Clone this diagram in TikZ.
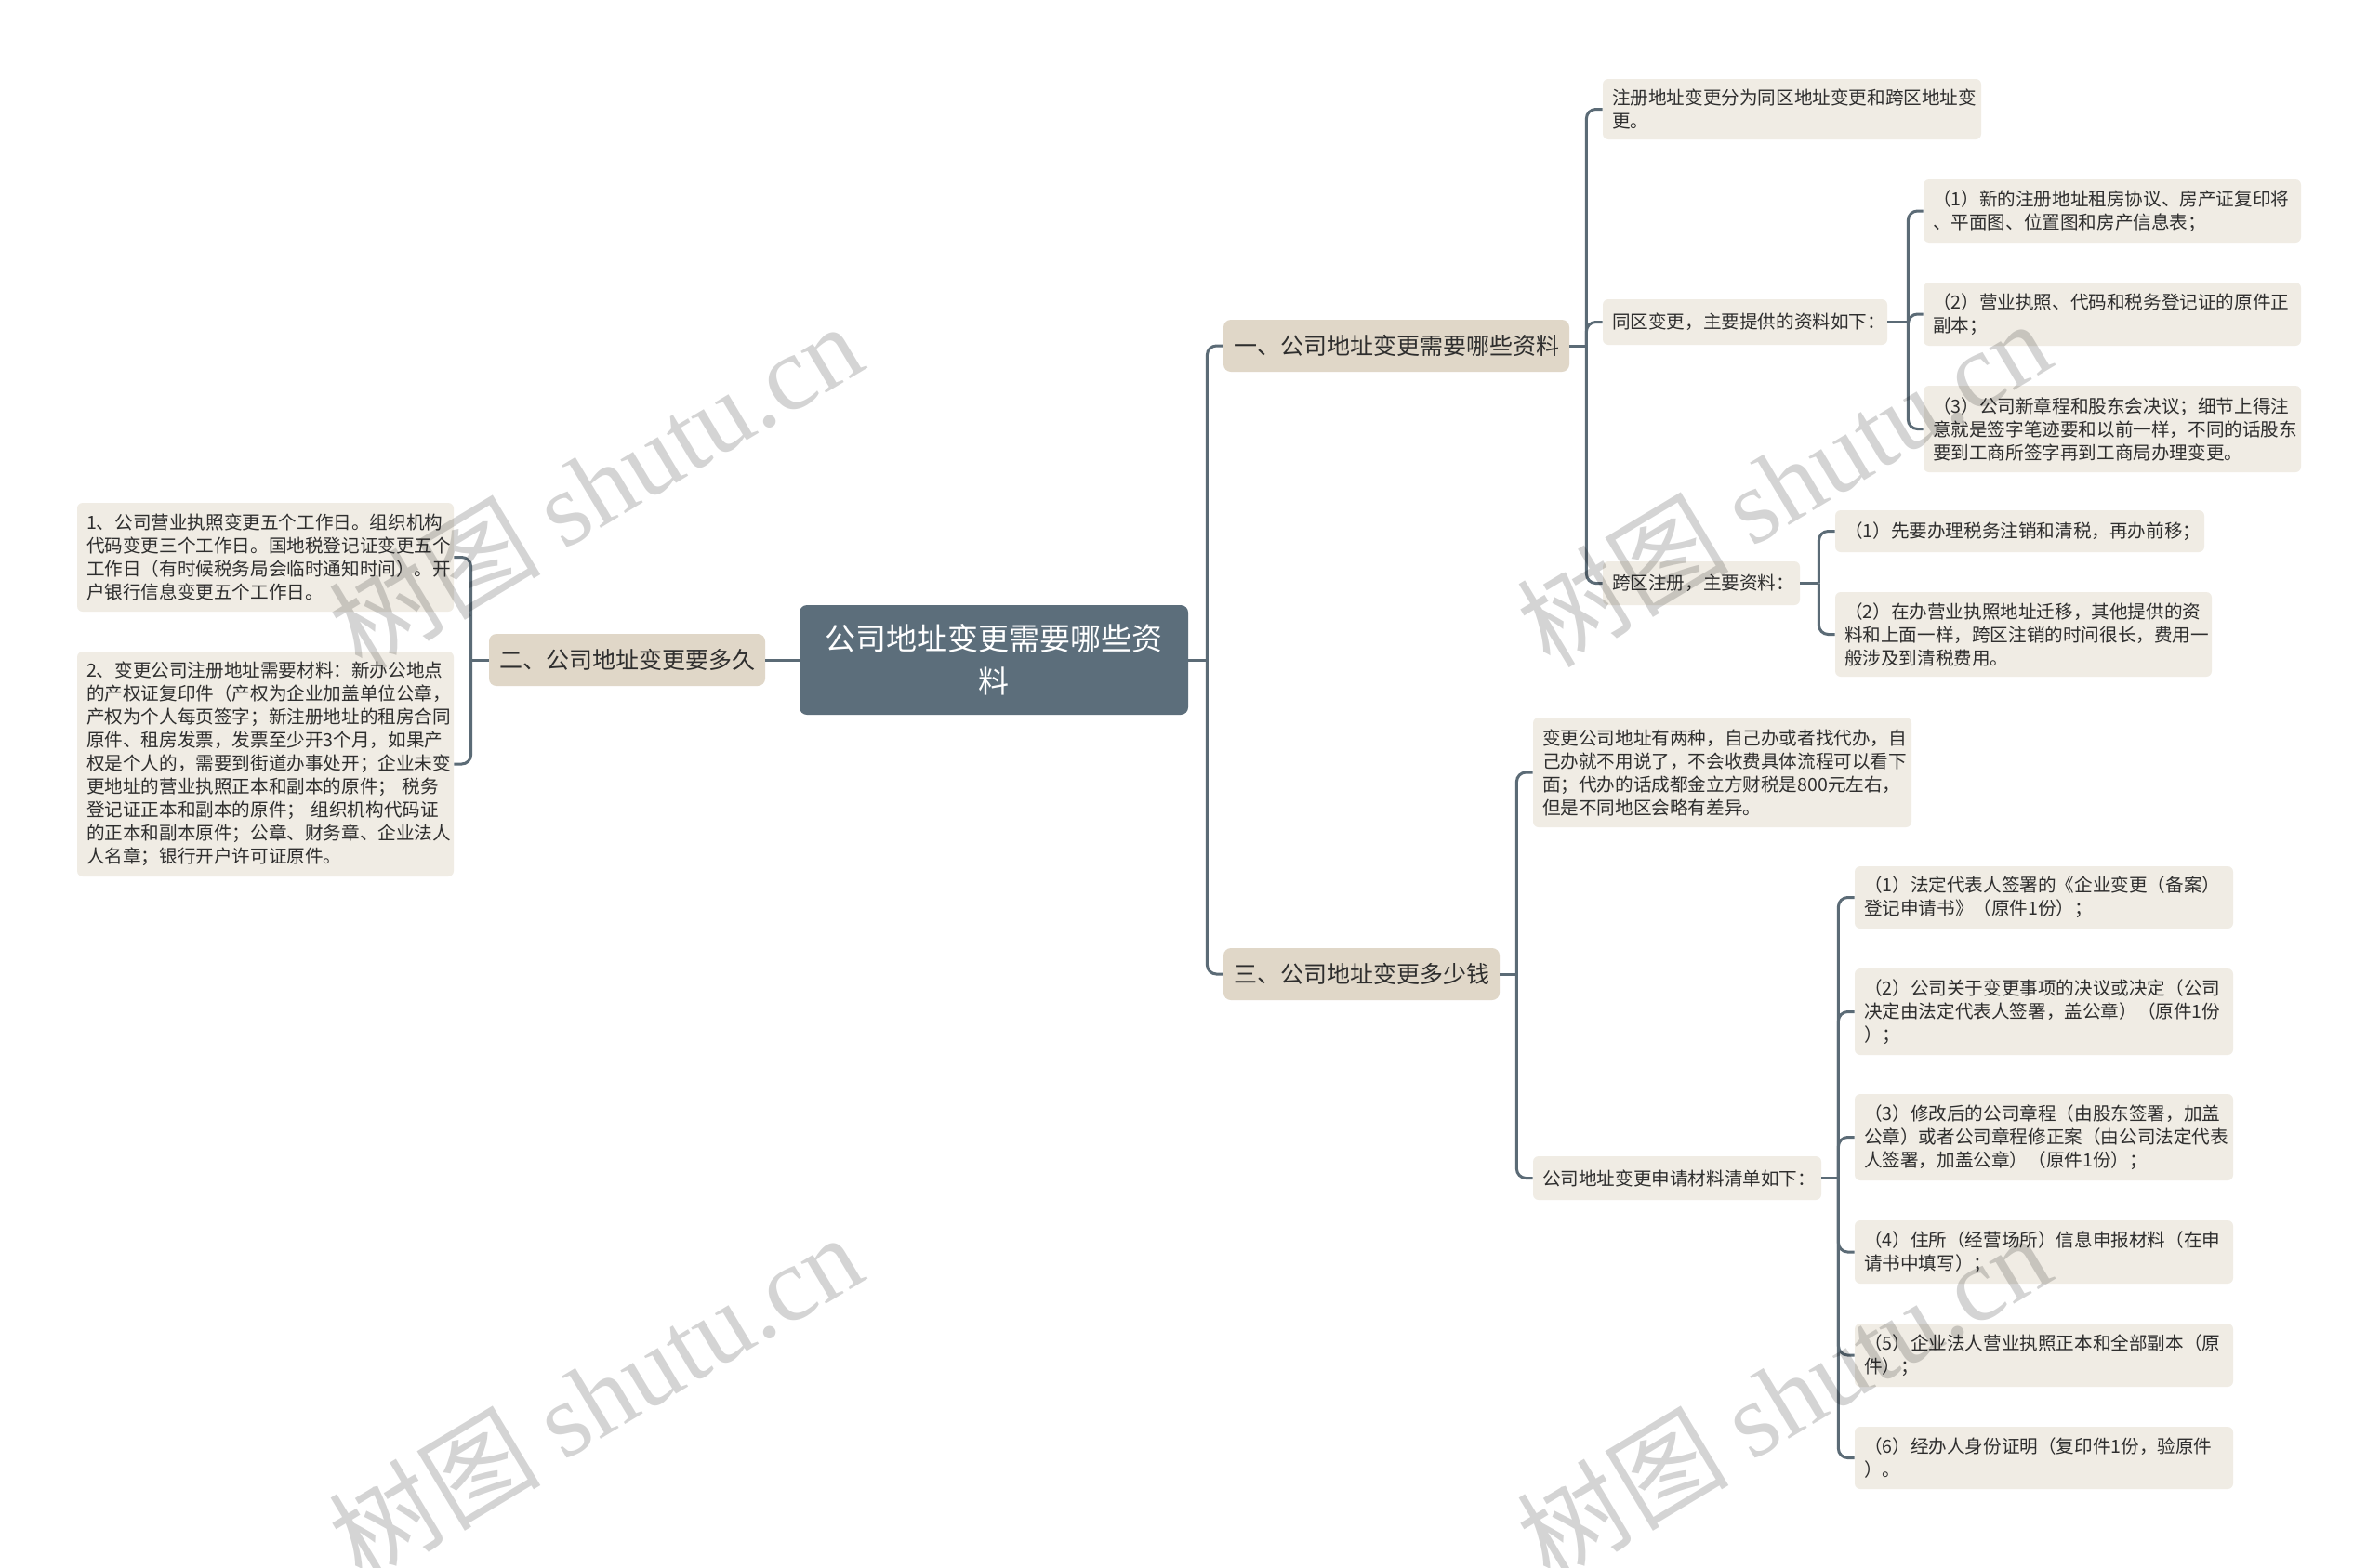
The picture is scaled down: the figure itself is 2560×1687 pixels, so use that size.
\documentclass[tikz,border=0pt]{standalone}
\usepackage{fontspec}
\setmainfont{Noto Sans CJK SC}
\newfontfamily\wmlatin{Liberation Serif}
\definecolor{linec}{HTML}{5B6B76}
\definecolor{rootc}{HTML}{5C6E7B}
\definecolor{lvlc}{HTML}{E0D7C8}
\definecolor{leafc}{HTML}{F0ECE4}
\definecolor{txtc}{HTML}{2E2E2E}
\tikzset{
  box/.style={rounded corners=3pt, inner xsep=5pt, inner ysep=0pt, align=left,
    font=\fontsize{9.8}{12.5}\selectfont, text=txtc, fill=leafc},
  rootbox/.style={rounded corners=4pt, fill=rootc, text=white, align=center,
    inner sep=0pt, font=\fontsize{16.5}{23}\selectfont},
  lvlbox/.style={rounded corners=4pt, fill=lvlc, text=txtc, inner sep=0pt,
    font=\fontsize{12.5}{15}\selectfont},
  conn/.style={draw=linec, line width=1.5pt, rounded corners=5pt},
  wm/.style={rotate=31, text=black, text opacity=0.17, inner sep=0pt,
    font=\fontsize{57}{60}\selectfont}
}
\begin{document}
\begin{tikzpicture}[x=0.5pt,y=-0.5pt]
\useasboundingbox[fill=white] (0,0) rectangle (2560,1687);

% root and level 1
\node[rootbox, minimum width=209pt, minimum height=59pt] (root) at (1069,710)
  {公司地址变更需要哪些资\\料};
\node[lvlbox, minimum width=148.5pt, minimum height=28pt] (n2) at (674.5,710)
  {二、公司地址变更要多久};
\node[lvlbox, minimum width=186pt, minimum height=28pt] (n1) at (1502,372)
  {一、公司地址变更需要哪些资料};
\node[lvlbox, minimum width=148.5pt, minimum height=28pt] (n3) at (1464.5,1048)
  {三、公司地址变更多少钱};

% left leaves
\node[box, text width=192.5pt, minimum height=58.5pt] (L1) at (285.5,599.5)
  {1、公司营业执照变更五个工作日。组织机构\\代码变更三个工作日。国地税登记证变更五个\\工作日（有时候税务局会临时通知时间）。开\\户银行信息变更五个工作日。};
\node[box, text width=192.5pt, minimum height=121pt] (L2) at (285.5,822)
  {2、变更公司注册地址需要材料：新办公地点\\的产权证复印件（产权为企业加盖单位公章，\\产权为个人每页签字；新注册地址的租房合同\\原件、租房发票，发票至少开3个月，如果产\\权是个人的，需要到街道办事处开；企业未变\\更地址的营业执照正本和副本的原件； 税务\\登记证正本和副本的原件； 组织机构代码证\\的正本和副本原件；公章、财务章、企业法人\\人名章；银行开户许可证原件。};

% branch one children
\node[box, text width=193.5pt, minimum height=32.5pt] (a1) at (1927.5,117.5)
  {注册地址变更分为同区地址变更和跨区地址变\\更。};
\node[box, text width=143pt, minimum height=24.5pt] (a2) at (1877,346.5)
  {同区变更，主要提供的资料如下：};
\node[box, text width=96pt, minimum height=23.5pt] (a3) at (1830,627.5)
  {跨区注册，主要资料：};

\node[box, text width=193pt, minimum height=34pt] (b1) at (2272,227)
  {（1）新的注册地址租房协议、房产证复印将\\、平面图、位置图和房产信息表；};
\node[box, text width=193pt, minimum height=34pt] (b2) at (2272,338)
  {（2）营业执照、代码和税务登记证的原件正\\副本；};
\node[box, text width=193pt, minimum height=46.5pt] (b3) at (2272,461.5)
  {（3）公司新章程和股东会决议；细节上得注\\意就是签字笔迹要和以前一样，不同的话股东\\要到工商所签字再到工商局办理变更。};

\node[box, text width=188.5pt, minimum height=22.5pt] (c1) at (2172.5,571.5)
  {（1）先要办理税务注销和清税，再办前移；};
\node[box, text width=192.5pt, minimum height=45.5pt] (c2) at (2176.5,682.5)
  {（2）在办营业执照地址迁移，其他提供的资\\料和上面一样，跨区注销的时间很长，费用一\\般涉及到清税费用。};

% branch three children
\node[box, text width=193.5pt, minimum height=59pt] (d1) at (1852.5,831)
  {变更公司地址有两种，自己办或者找代办，自\\己办就不用说了，不会收费具体流程可以看下\\面；代办的话成都金立方财税是800元左右，\\但是不同地区会略有差异。};
\node[box, text width=145pt, minimum height=23.5pt] (d2) at (1804,1267.5)
  {公司地址变更申请材料清单如下：};

\node[box, text width=193.5pt, minimum height=33.5pt] (e1) at (2198.5,965.5)
  {（1）法定代表人签署的《企业变更（备案）\\登记申请书》（原件1份）；};
\node[box, text width=193.5pt, minimum height=46.5pt] (e2) at (2198.5,1088.5)
  {（2）公司关于变更事项的决议或决定（公司\\决定由法定代表人签署，盖公章）（原件1份\\）；};
\node[box, text width=193.5pt, minimum height=46.5pt] (e3) at (2198.5,1223.5)
  {（3）修改后的公司章程（由股东签署，加盖\\公章）或者公司章程修正案（由公司法定代表\\人签署，加盖公章）（原件1份）；};
\node[box, text width=193.5pt, minimum height=34pt] (e4) at (2198.5,1347)
  {（4）住所（经营场所）信息申报材料（在申\\请书中填写）；};
\node[box, text width=193.5pt, minimum height=34pt] (e5) at (2198.5,1458)
  {（5）企业法人营业执照正本和全部副本（原\\件）；};
\node[box, text width=193.5pt, minimum height=33.5pt] (e6) at (2198.5,1568.5)
  {（6）经办人身份证明（复印件1份，验原件\\）。};

% connectors
\coordinate (tR) at ([xshift=10pt]root.east);
\draw[conn] (root.east) -- (tR);
\draw[conn] (tR) |- (n1.west);
\draw[conn] (tR) |- (n3.west);

\coordinate (tL) at ([xshift=-9.5pt]n2.west);
\draw[conn] (root.west) -- (n2.east);
\draw[conn] (n2.west) -- (tL);
\draw[conn] (tL) |- (L1.east);
\draw[conn] (tL) |- (L2.east);

\coordinate (t1) at ([xshift=9pt]n1.east);
\draw[conn] (n1.east) -- (t1);
\draw[conn] (t1) |- (a1.west);
\draw[conn] (t1) |- (a2.west);
\draw[conn] (t1) |- (a3.west);

\coordinate (t2) at ([xshift=11pt]a2.east);
\draw[conn] (a2.east) -- (t2);
\draw[conn] (t2) |- (b1.west);
\draw[conn] (t2) |- (b2.west);
\draw[conn] (t2) |- (b3.west);

\coordinate (t3) at ([xshift=10pt]a3.east);
\draw[conn] (a3.east) -- (t3);
\draw[conn] (t3) |- (c1.west);
\draw[conn] (t3) |- (c2.west);

\coordinate (t4) at ([xshift=9pt]n3.east);
\draw[conn] (n3.east) -- (t4);
\draw[conn] (t4) |- (d1.west);
\draw[conn] (t4) |- (d2.west);

\coordinate (t5) at ([xshift=9pt]d2.east);
\draw[conn] (d2.east) -- (t5);
\foreach \e in {e1,e2,e3,e4,e5,e6} {\draw[conn] (t5) |- (\e.west);}

% watermarks
\node[wm] (wm1) at (640,522) {树图 {\wmlatin shutu.cn}};
\node[wm] (wm2) at (640,1502) {树图 {\wmlatin shutu.cn}};
\node[wm] (wm3) at (1918,519) {树图 {\wmlatin shutu.cn}};
\node[wm] (wm4) at (1918,1502) {树图 {\wmlatin shutu.cn}};
\end{tikzpicture}
\end{document}
